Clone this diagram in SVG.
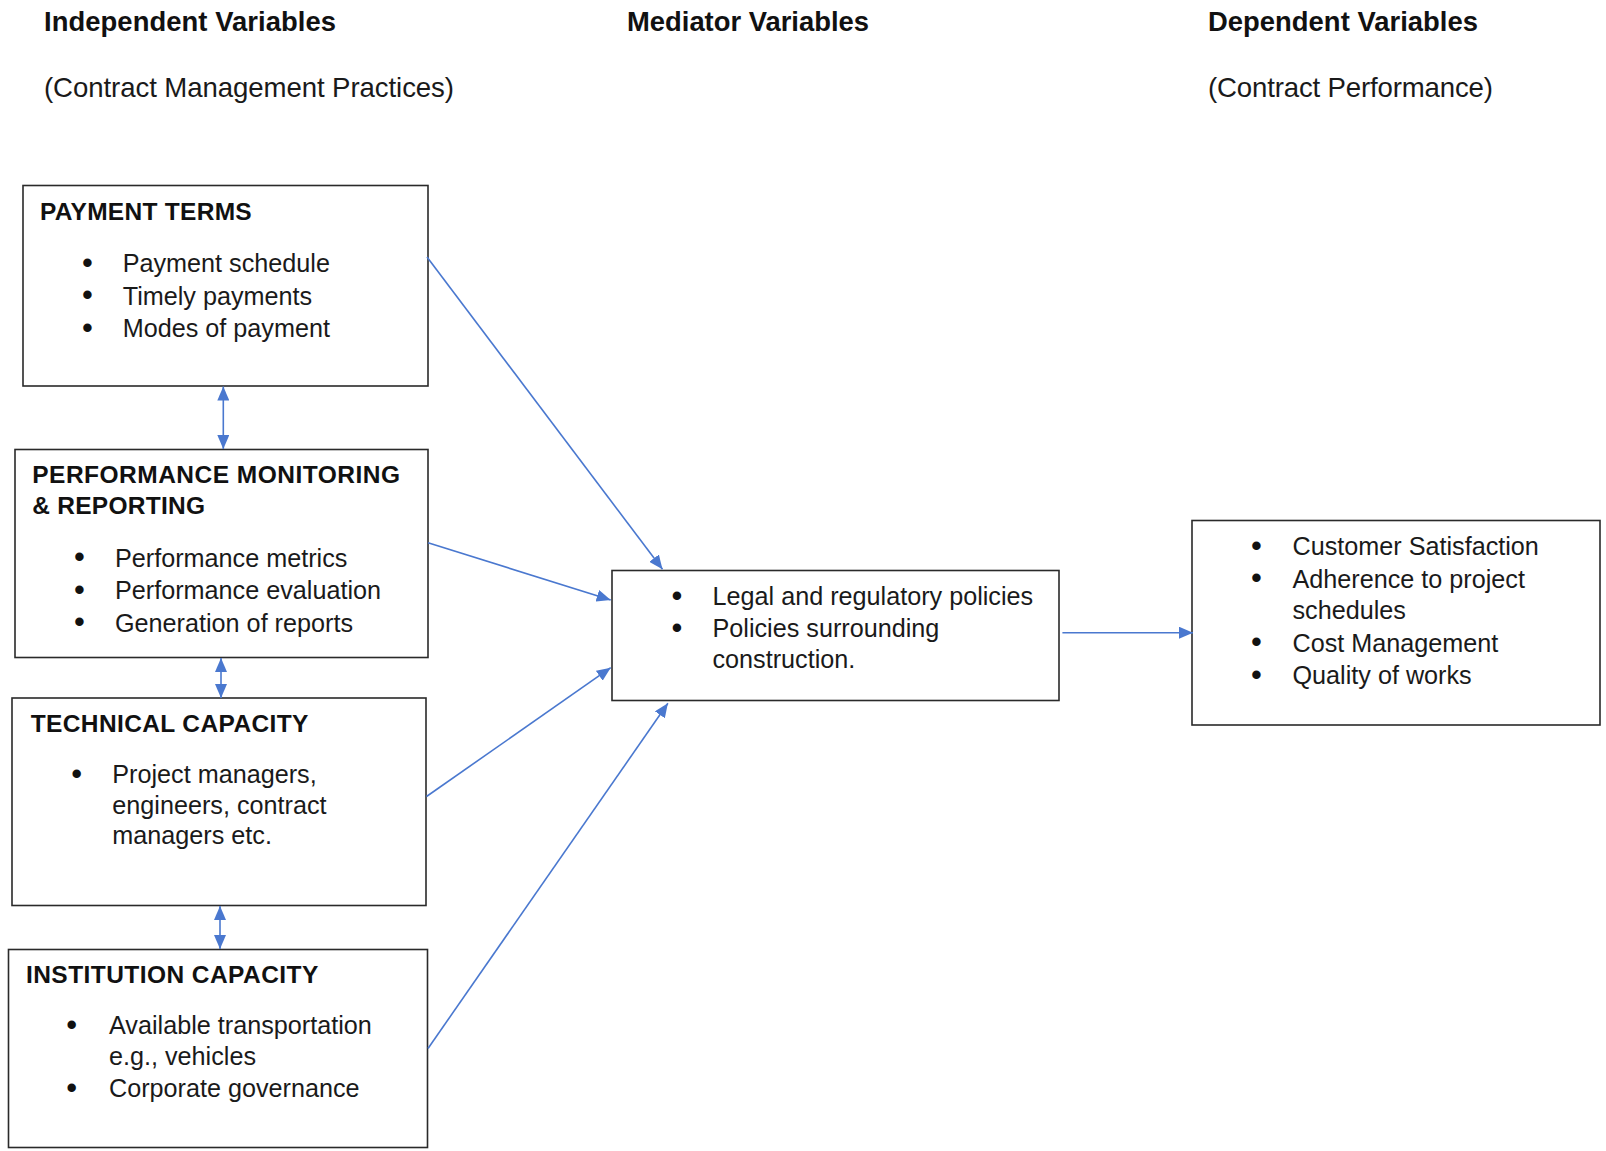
<svg xmlns="http://www.w3.org/2000/svg" width="1606" height="1151" viewBox="0 0 1606 1151">
<style>
text{font-family:"Liberation Sans",Arial,sans-serif;fill:#1a1a1a}
.hd{font-size:27.4px;font-weight:bold;fill:#111}
.sub{font-size:27.6px}
.tt{font-size:24.5px;font-weight:bold;fill:#111}
.bd{font-size:25.2px}
.bl{font-size:31px;text-anchor:middle;fill:#111}
.box{fill:#fff;stroke:#2a2a2a;stroke-width:1.6}
.con{stroke:#4a78cf;stroke-width:1.6;fill:none}
</style>
<defs>
<marker id="ah" markerUnits="userSpaceOnUse" markerWidth="14" markerHeight="12" viewBox="0 0 14 12" refX="14" refY="6" orient="auto-start-reverse">
<path d="M0,0 L14,6 L0,12 z" fill="#4a78cf"/>
</marker>
</defs>
<rect width="1606" height="1151" fill="#fff"/>
<g id="headers">
<text class="hd" x="44" y="30.5" textLength="292" lengthAdjust="spacing">Independent Variables</text>
<text class="sub" x="44" y="96.5" textLength="410" lengthAdjust="spacing">(Contract Management Practices)</text>
<text class="hd" x="627" y="30.5" textLength="242" lengthAdjust="spacing">Mediator Variables</text>
<text class="hd" x="1208" y="30.5" textLength="270" lengthAdjust="spacing">Dependent Variables</text>
<text class="sub" x="1208" y="96.5" textLength="285" lengthAdjust="spacing">(Contract Performance)</text>
</g>
<g id="payment-terms">
<rect class="box" x="23" y="185.5" width="405" height="200.5"/>
<text class="tt" x="40" y="219.5" textLength="211.7" lengthAdjust="spacing">PAYMENT TERMS</text>
<text class="bl" x="87.5" y="272.5">•</text><text class="bd" x="122.7" y="271.7">Payment schedule</text>
<text class="bl" x="87.5" y="305.3">•</text><text class="bd" x="122.7" y="304.5">Timely payments</text>
<text class="bl" x="87.5" y="338.1">•</text><text class="bd" x="122.7" y="337.3">Modes of payment</text>
</g>
<g id="performance-monitoring">
<rect class="box" x="15" y="449.5" width="413" height="208"/>
<text class="tt" x="32.3" y="483.3" textLength="367.7" lengthAdjust="spacing">PERFORMANCE MONITORING</text>
<text class="tt" x="32.3" y="514" textLength="172.7" lengthAdjust="spacing">&amp; REPORTING</text>
<text class="bl" x="79.5" y="567.3">•</text><text class="bd" x="115" y="566.5">Performance metrics</text>
<text class="bl" x="79.5" y="599.8">•</text><text class="bd" x="115" y="599">Performance evaluation</text>
<text class="bl" x="79.5" y="632.3">•</text><text class="bd" x="115" y="631.5">Generation of reports</text>
</g>
<g id="technical-capacity">
<rect class="box" x="12" y="698" width="414" height="207.5"/>
<text class="tt" x="30.7" y="731.7" textLength="277.7" lengthAdjust="spacing">TECHNICAL CAPACITY</text>
<text class="bl" x="76.7" y="784.1">•</text><text class="bd" x="112.3" y="783.3">Project managers,</text>
<text class="bd" x="112.3" y="813.8">engineers, contract</text>
<text class="bd" x="112.3" y="844.2">managers etc.</text>
</g>
<g id="institution-capacity">
<rect class="box" x="8.5" y="949.5" width="419" height="198"/>
<text class="tt" x="26" y="983.3" textLength="292.3" lengthAdjust="spacing">INSTITUTION CAPACITY</text>
<text class="bl" x="71.7" y="1034.8">•</text><text class="bd" x="109" y="1034">Available transportation</text>
<text class="bd" x="109" y="1065">e.g., vehicles</text>
<text class="bl" x="71.7" y="1097.5">•</text><text class="bd" x="109" y="1096.7">Corporate governance</text>
</g>
<g id="mediator">
<rect class="box" x="612" y="570.5" width="447" height="130"/>
<text class="bl" x="677" y="605.8">•</text><text class="bd" x="712.5" y="605">Legal and regulatory policies</text>
<text class="bl" x="677" y="638.1">•</text><text class="bd" x="712.5" y="637.3">Policies surrounding</text>
<text class="bd" x="712.5" y="668.3">construction.</text>
</g>
<g id="dependent">
<rect class="box" x="1192" y="520.5" width="408" height="204.5"/>
<text class="bl" x="1256.5" y="555.8">•</text><text class="bd" x="1292.5" y="555">Customer Satisfaction</text>
<text class="bl" x="1256.5" y="588.3">•</text><text class="bd" x="1292.5" y="587.5">Adherence to project</text>
<text class="bd" x="1292.5" y="618.5">schedules</text>
<text class="bl" x="1256.5" y="652.3">•</text><text class="bd" x="1292.5" y="651.5">Cost Management</text>
<text class="bl" x="1256.5" y="684.8">•</text><text class="bd" x="1292.5" y="684">Quality of works</text>
</g>
<g id="connectors">
<line class="con" x1="427" y1="257" x2="662.5" y2="569.3" marker-end="url(#ah)"/>
<line class="con" x1="428" y1="542.7" x2="610.7" y2="600" marker-end="url(#ah)"/>
<line class="con" x1="426.5" y1="796.5" x2="610.7" y2="667.7" marker-end="url(#ah)"/>
<line class="con" x1="428" y1="1048.5" x2="667.9" y2="703.3" marker-end="url(#ah)"/>
<line class="con" x1="1062.4" y1="632.7" x2="1193" y2="632.7" marker-end="url(#ah)"/>
<line class="con" x1="223.3" y1="386.5" x2="223.3" y2="449" marker-start="url(#ah)" marker-end="url(#ah)"/>
<line class="con" x1="221" y1="658" x2="221" y2="698" marker-start="url(#ah)" marker-end="url(#ah)"/>
<line class="con" x1="220" y1="906" x2="220" y2="949" marker-start="url(#ah)" marker-end="url(#ah)"/>
</g>
</svg>
